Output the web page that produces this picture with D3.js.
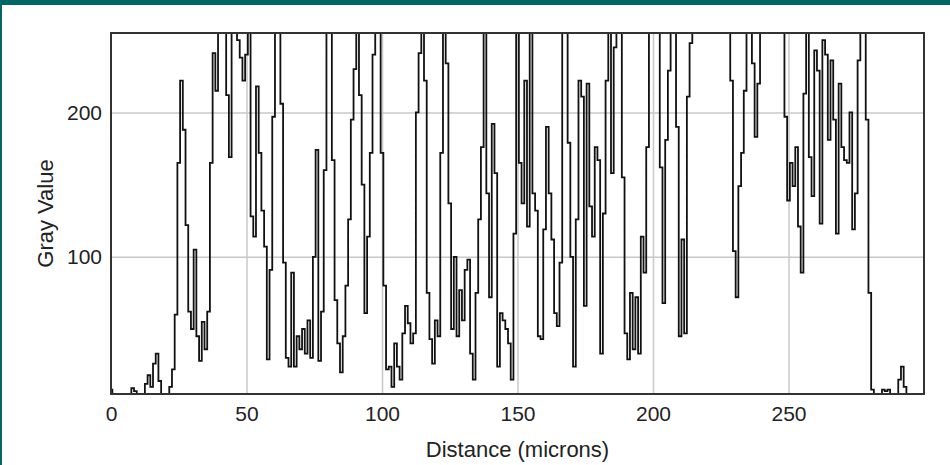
<!DOCTYPE html>
<html lang="en">
<head>
    <meta charset="UTF-8">
    <title>Plot Profile</title>
    <style>
        body {
            margin: 0;
            background: #fff;
        }
        svg text {
            font-family: 'Liberation Sans', Arial, sans-serif;
            fill: #222;
        }
    </style>
</head>
<body>
    <div id="chart"></div>
    <script src="https://d3js.org/d3.v7.min.js"></script>
    <script>
        // gray values sampled every micron along the profile line
        const step = 1;
        const grayValues = [
            8, 5, 5, 5, 5, 5, 5, 5, 9, 7,
            5, 5, 5, 12, 18, 10, 26, 33, 14, 5,
            5, 5, 10, 22, 60, 165, 222, 188, 122, 62,
            50, 105, 45, 28, 55, 36, 62, 165, 241, 215,
            255, 255, 255, 212, 169, 255, 255, 250, 238, 222,
            240, 255, 128, 114, 218, 172, 132, 107, 29, 91,
            197, 255, 255, 206, 96, 30, 24, 89, 24, 45,
            36, 50, 33, 56, 30, 100, 174, 28, 62, 160,
            255, 255, 167, 70, 40, 20, 45, 80, 126, 195,
            230, 255, 212, 150, 61, 114, 172, 240, 255, 255,
            172, 80, 22, 24, 10, 40, 24, 15, 47, 66,
            54, 40, 47, 200, 241, 255, 222, 75, 43, 26,
            56, 45, 172, 255, 234, 137, 50, 100, 45, 77,
            56, 91, 98, 33, 15, 75, 126, 176, 255, 144,
            72, 192, 158, 24, 61, 56, 50, 40, 15, 116,
            255, 165, 137, 222, 121, 255, 144, 132, 45, 43,
            119, 190, 144, 112, 61, 52, 96, 255, 255, 179,
            100, 24, 126, 222, 211, 66, 220, 135, 114, 176,
            167, 33, 130, 222, 255, 158, 245, 255, 255, 155,
            47, 29, 75, 36, 72, 33, 114, 89, 176, 255,
            255, 255, 255, 162, 68, 181, 229, 255, 255, 190,
            45, 112, 47, 211, 248, 255, 255, 255, 255, 255,
            255, 255, 255, 255, 255, 255, 255, 255, 255, 222,
            104, 72, 149, 172, 215, 255, 255, 234, 183, 220,
            255, 255, 255, 255, 255, 255, 255, 255, 255, 197,
            139, 165, 149, 176, 121, 89, 213, 255, 169, 142,
            243, 229, 123, 250, 240, 181, 236, 195, 116, 220,
            176, 167, 165, 200, 119, 144, 236, 255, 255, 195,
            75, 8, 5, 5, 5, 8, 7, 8, 5, 5,
            5, 15, 24, 10, 5, 5, 5, 5, 5, 5, 5
        ];
        const distances = grayValues.map((d, i) => i * step);

        const xDomain = [0, 300];
        const yDomain = [5, 255];
        const xTicks = [0, 50, 100, 150, 200, 250];
        const yTicks = [100, 200];
        const xTitle = "Distance (microns)";
        const yTitle = "Gray Value";

        var W = 950, H = 465,
            margin = {top: 33, right: 26, bottom: 71, left: 111},
            width = W - margin.left - margin.right,
            height = H - margin.top - margin.bottom;

        var svg = d3.select("#chart")
            .append("svg")
            .attr("width", W)
            .attr("height", H);

        // teal window edge
        svg.append("rect").attr("x", 0).attr("y", 0).attr("width", W).attr("height", 5).attr("fill", "#006666");
        svg.append("rect").attr("x", 0).attr("y", 0).attr("width", 2).attr("height", H).attr("fill", "#006666");

        var g = svg.append("g")
            .attr("transform", "translate(" + margin.left + "," + margin.top + ")");

        var x = d3.scaleLinear().domain(xDomain).range([0, width]);
        var y = d3.scaleLinear().domain(yDomain).range([height, 0]);

        // grid
        g.append("g")
            .call(d3.axisBottom(x).tickValues(xTicks.filter(t => t > 0)).tickSize(height).tickFormat(""))
            .call(a => a.select(".domain").remove())
            .selectAll("line").attr("stroke", "#c8c8c8").attr("stroke-width", 1.5);

        g.append("g")
            .call(d3.axisLeft(y).tickValues(yTicks).tickSize(-width).tickFormat(""))
            .call(a => a.select(".domain").remove())
            .selectAll("line").attr("stroke", "#c8c8c8").attr("stroke-width", 1.5);

        // profile line, drawn as steps like the pixel profile
        g.append("clipPath").attr("id", "clip")
            .append("rect").attr("width", width).attr("height", height);

        var line = d3.line()
            .curve(d3.curveStep)
            .x((d, i) => x(distances[i]))
            .y(d => y(d));

        g.append("path")
            .datum(grayValues)
            .attr("clip-path", "url(#clip)")
            .attr("fill", "none")
            .attr("stroke", "#111")
            .attr("stroke-width", 1.8)
            .attr("d", line);

        // frame
        g.append("rect")
            .attr("width", width)
            .attr("height", height)
            .attr("fill", "none")
            .attr("stroke", "#333")
            .attr("stroke-width", 2);

        // tick labels
        var xAxis = g.append("g")
            .attr("transform", "translate(0," + height + ")")
            .call(d3.axisBottom(x).tickValues(xTicks).tickSize(0).tickPadding(12));
        xAxis.select(".domain").remove();
        xAxis.selectAll("text").style("font-size", "21px").attr("fill", "#222");

        var yAxis = g.append("g")
            .call(d3.axisLeft(y).tickValues(yTicks).tickSize(0).tickPadding(9));
        yAxis.select(".domain").remove();
        yAxis.selectAll("text").style("font-size", "21px").attr("fill", "#222");

        // titles
        svg.append("text")
            .attr("x", margin.left + width / 2)
            .attr("y", 457)
            .style("text-anchor", "middle")
            .style("font-size", "22px")
            .text(xTitle);

        svg.append("text")
            .attr("transform", "translate(53," + (margin.top + height / 2) + ") rotate(-90)")
            .style("text-anchor", "middle")
            .style("font-size", "22px")
            .text(yTitle);
    </script>
</body>
</html>
